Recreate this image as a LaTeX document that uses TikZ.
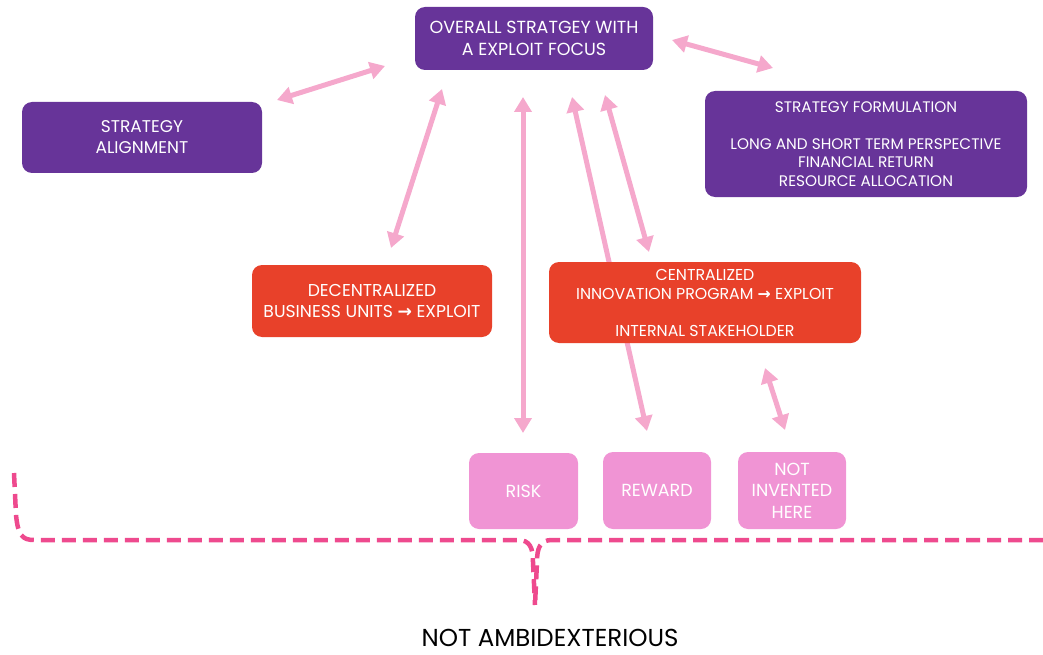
\documentclass[tikz,border=0pt]{standalone}
\usepackage{fontspec}
\setmainfont{Poppins}
\newfontfamily\symfont{DejaVu Sans}
\usetikzlibrary{arrows.meta}
\definecolor{plum}{HTML}{673499}
\definecolor{flame}{HTML}{E8412A}
\definecolor{orchid}{HTML}{F094D4}
\definecolor{blush}{HTML}{F5A8CC}
\definecolor{rose}{HTML}{EE4A8E}
\newcommand{\ToArrow}{{\symfont\bfseries →}}
\pgfdeclarelayer{bg}
\pgfsetlayers{bg,main}
\tikzset{
  box/.style={rounded corners=10pt, text=white, align=center, inner sep=0pt},
  purplebox/.style={box, fill=plum},
  redbox/.style={box, fill=flame},
  pinkbox/.style={box, fill=orchid, font=\fontsize{17.5}{21.5}\selectfont},
  link/.style={draw=blush, line width=5pt, {Triangle[width=17pt,length=15pt]}-{Triangle[width=17pt,length=15pt]}},
  boundary/.style={draw=rose, line width=4.5pt, dash pattern=on 14pt off 7pt},
}
\begin{document}
\begin{tikzpicture}[x=1pt,y=-1pt]
\useasboundingbox (0,0) rectangle (1043,655);

% top level strategy
\node[purplebox, minimum width=238pt, minimum height=63pt, font=\fontsize{17.5}{22}\selectfont] (overall) at (534,38.5)
  {OVERALL STRATGEY WITH\\A EXPLOIT FOCUS};
\node[purplebox, minimum width=240pt, minimum height=71pt, font=\fontsize{17}{21}\selectfont] (align) at (142,137.5)
  {STRATEGY\\ALIGNMENT};
\node[purplebox, minimum width=322pt, minimum height=106pt, font=\fontsize{15.3}{18.5}\selectfont] (form) at (866,144)
  {STRATEGY FORMULATION\\[18.5pt]LONG AND SHORT TERM PERSPECTIVE\\FINANCIAL RETURN\\RESOURCE ALLOCATION};

% organisational units
\node[redbox, minimum width=240pt, minimum height=72pt, font=\fontsize{17.2}{21}\selectfont] (decent) at (372,301)
  {DECENTRALIZED\\BUSINESS UNITS \ToArrow{} EXPLOIT};
\node[redbox, minimum width=312pt, minimum height=81pt, font=\fontsize{15.8}{19}\selectfont] (central) at (705,302.5)
  {CENTRALIZED\\INNOVATION PROGRAM \ToArrow{} EXPLOIT\\[18pt]INTERNAL STAKEHOLDER};

% factors
\node[pinkbox, minimum width=109pt, minimum height=76pt] (risk) at (523.5,491) {RISK};
\node[pinkbox, minimum width=108pt, minimum height=77pt] (reward) at (657,490.5) {REWARD};
\node[pinkbox, minimum width=108pt, minimum height=77pt] (nih) at (792,490.5) {NOT\\INVENTED\\HERE};

% arrow end points
\coordinate (a1) at (277,100);  \coordinate (b1) at (385,66);
\coordinate (a2) at (672,40);   \coordinate (b2) at (773,68);
\coordinate (a3) at (442,89);   \coordinate (b3) at (391,248);
\coordinate (a4) at (523,97);   \coordinate (b4) at (523,433);
\coordinate (a5) at (572,97);   \coordinate (b5) at (647,431);
\coordinate (a6) at (605,95);   \coordinate (b6) at (649,252);
\coordinate (a7) at (765,368);  \coordinate (b7) at (785,430);

\begin{pgfonlayer}{bg}
  \draw[link] (a1) -- (b1);
  \draw[link] (a2) -- (b2);
  \draw[link] (a3) -- (b3);
  \draw[link] (a4) -- (b4);
  \draw[link] (a5) -- (b5);
  \draw[link] (a6) -- (b6);
  \draw[link] (a7) -- (b7);
\end{pgfonlayer}

% dashed boundary with brace tip
\coordinate (lstart) at (14,473);
\coordinate (rstart) at (1043,540);
\coordinate (tip) at (535,605);
\draw[boundary] (lstart) -- (16,515) .. controls (18,535) and (22,540) .. (34,540)
  -- (518,540) .. controls (530,540) and (533,548) .. (533,562) -- (tip);
\draw[boundary] (rstart) -- (552,540) .. controls (540,540) and (537,548) .. (537,562) -- (tip);

\node[font=\fontsize{24.5}{30}\selectfont, text=black, inner sep=0pt, text depth=0pt, anchor=base] (label) at (550,646) {NOT AMBIDEXTERIOUS};
\end{tikzpicture}
\end{document}
